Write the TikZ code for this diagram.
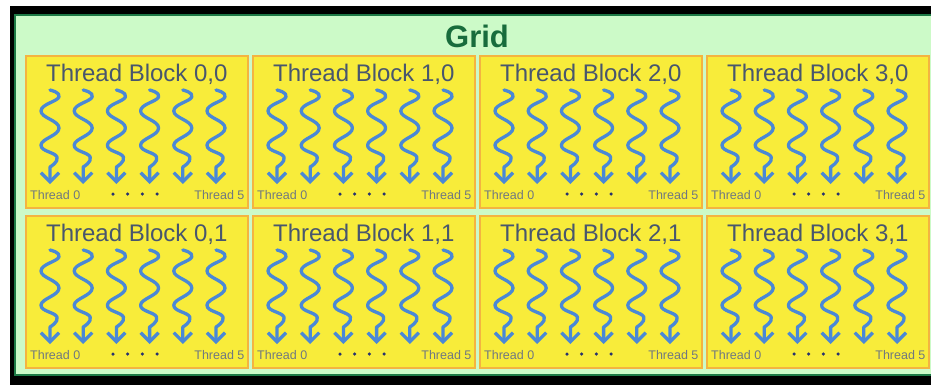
\documentclass[tikz,border=0pt]{standalone}
\usepackage{fontspec}
\setmainfont{Liberation Sans}
\usetikzlibrary{arrows.meta, positioning}
\definecolor{GridDark}{RGB}{24,108,60}
\definecolor{GridEdge}{RGB}{30,122,70}
\definecolor{GridLight}{RGB}{204,250,200}
\definecolor{BlkFill}{RGB}{248,236,58}
\definecolor{BlkEdge}{RGB}{244,180,64}
\definecolor{BlkText}{RGB}{72,86,110}
\definecolor{ThrBlue}{RGB}{74,136,214}
\definecolor{ThrGray}{RGB}{112,120,128}
\definecolor{DotNavy}{RGB}{40,50,110}

\begin{document}
\begin{tikzpicture}[x=1pt, y=-1pt,
    block/.style={rectangle, draw=BlkEdge, line width=1.6pt, fill=BlkFill,
                  minimum width=222pt, minimum height=152pt, inner sep=0pt,
                  anchor=north west},
    blklbl/.style={font=\fontsize{24}{24}\selectfont, text=BlkText, inner sep=0pt},
    thr/.style={ThrBlue, line width=3.3pt, line cap=round, line join=round,
                -{Straight Barb[length=9pt, width=18pt]}},
    thrlbl/.style={font=\fontsize{12.5}{12.5}\selectfont, text=ThrGray, inner sep=0pt},
    tdot/.style={circle, fill=DotNavy, minimum size=3.5pt, inner sep=0pt}
  ]
  \useasboundingbox (0,0) rectangle (931,384);
  \clip (0,0) rectangle (931,384);

  % Grid frame
  \fill[black] (10,6) rectangle (945,395);
  \fill[GridEdge] (14,14) rectangle (940,376);
  \fill[GridLight] (16,16) rectangle (940,374);
  \node[font=\fontsize{31}{31}\selectfont\bfseries, text=GridDark, inner sep=0pt]
    (grid) at (477,36) {Grid};

  % Thread blocks
  \foreach \c [evaluate=\c as \bx using 25+227*\c] in {0,...,3} {
    \foreach \r [evaluate=\r as \by using 55+160*\r] in {0,1} {
      \node[block] (blk\c\r) at (\bx,\by) {};
      \node[blklbl, below=8.5pt of blk\c\r.north] (ttl\c\r) {Thread Block \c,\r};
      % six threads
      \foreach \k in {0,...,5} {
        \begin{scope}[shift={(\bx+25+33.2*\k,\by+35)}]
          \draw[thr] plot[smooth, tension=0.8] coordinates
            {(0,0) (9,7) (-9,21) (9,38) (-9,55) (7,67) (0,77)} -- (0,94);
        \end{scope}
      }
      \node[thrlbl, above right=8.5pt and 5pt of blk\c\r.south west] (first\c\r) {Thread 0};
      \node[thrlbl, above left=8.5pt and 4pt of blk\c\r.south east] (last\c\r) {Thread 5};
      \foreach \k in {0,...,3} {
        \node[tdot] (dot\c\r\k) at (\bx+88+14.7*\k,\by+139) {};
      }
    }
  }
\end{tikzpicture}
\end{document}
